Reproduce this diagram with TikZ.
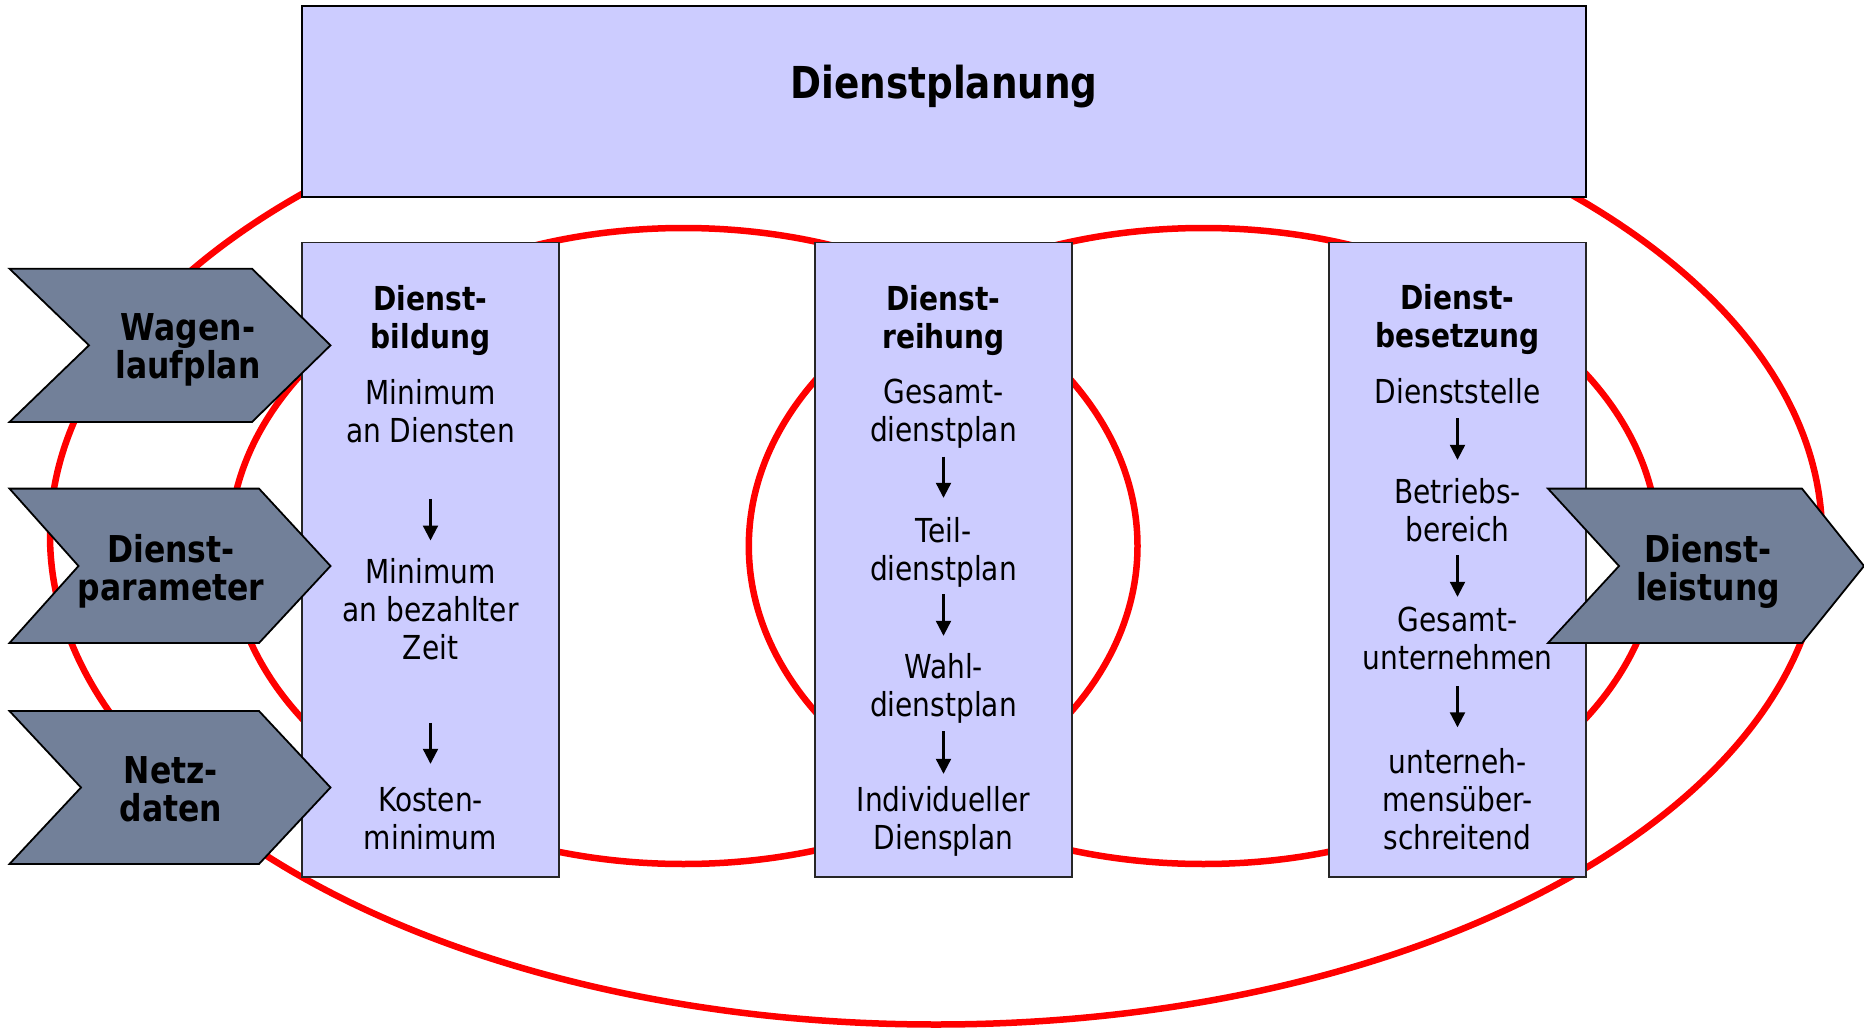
\documentclass[tikz,border=0pt]{standalone}
\usepackage{fontspec}
\setmainfont{DejaVu Sans}[FakeStretch=0.85]
\usetikzlibrary{arrows.meta}
\definecolor{lav}{RGB}{204,204,255}
\definecolor{slate}{RGB}{114,128,153}
\definecolor{ellred}{RGB}{255,0,0}
\newcommand\myTitle{\fontsize{44}{50}\selectfont\bfseries}
\newcommand\myChev{\fontsize{37}{38}\selectfont\bfseries\lineskiplimit=-100pt}
\newcommand\myHead{\fontsize{33}{38}\selectfont\bfseries\lineskiplimit=-100pt}
\newcommand\myBody{\fontsize{33}{38}\selectfont\lineskiplimit=-100pt}
\begin{document}
\begin{tikzpicture}[x=1pt,y=-1pt,
  ell/.style={draw=ellred, line width=6.5pt},
  topbox/.style={draw=black, fill=lav, line width=2pt, inner sep=0pt, outer sep=0pt},
  colbox/.style={draw=black!85, fill=lav, line width=1.6pt, inner sep=0pt, outer sep=0pt},
  chev/.style={draw=black, fill=slate, line width=1.8pt},
  cht/.style={font=\myChev, align=center, inner sep=0pt},
  hd/.style={font=\myHead, align=center, inner sep=0pt},
  bd/.style={font=\myBody, align=center, inner sep=0pt},
  ttl/.style={font=\myTitle, inner sep=0pt},
  arr/.style={-{Triangle[width=15pt,length=15pt]}, line width=2.2pt}
]
\useasboundingbox (0,0) rectangle (1864,1030);
% ellipses
\draw[ell] (936,535.5) ellipse [x radius=886pt, y radius=489pt];
\draw[ell] (683.5,546) ellipse [x radius=454pt, y radius=318pt];
\draw[ell] (1203.5,546) ellipse [x radius=454.7pt, y radius=318pt];
% boxes
\node[topbox, minimum width=1284pt, minimum height=191pt] (plan) at (944,101.5) {};
\node[colbox, minimum width=257pt, minimum height=634.5pt] (c1) at (430.5,559.75) {};
\node[colbox, minimum width=257pt, minimum height=634.5pt] (c2) at (943.5,559.75) {};
\node[colbox, minimum width=257pt, minimum height=634.5pt] (c3) at (1457.5,559.75) {};
% chevrons
\draw[chev] (9.5,268.7) -- (252,268.7) -- (330.5,345.3) -- (252,422) -- (9.5,422) -- (89,345.3) -- cycle;
\draw[chev] (9.5,488.6) -- (259,488.6) -- (330.5,566) -- (259,643) -- (9.5,643) -- (78.5,566) -- cycle;
\draw[chev] (9.5,711) -- (259,711) -- (330.5,787.5) -- (259,864) -- (9.5,864) -- (81,787.5) -- cycle;
\draw[chev] (1548,488.6) -- (1802,488.6) -- (1864,566) -- (1802,643) -- (1548,643) -- (1619,566) -- cycle;
% chevron texts
\node[cht] (wl) at (188,352) {\strut Wagen-\\\strut laufplan};
\node[cht] (dp) at (171,573) {\strut Dienst-\\\strut parameter};
\node[cht] (nd) at (171,795) {\strut Netz-\\\strut daten};
\node[cht] (dl) at (1708,573) {\strut Dienst-\\\strut leistung};
% title
\node[ttl] (tt) at (944,87) {Dienstplanung};
% column 1
\node[hd] (h1) at (430.5,322) {\strut Dienst-\\\strut bildung};
\node[bd] (b11) at (430.5,415.6) {\strut Minimum\\\strut an Diensten};
\node[bd] (b12) at (430.5,613.7) {\strut Minimum\\\strut an bezahlter\\\strut Zeit};
\node[bd] (b13) at (430.5,823) {\strut Kosten-\\\strut minimum};
% column 2
\node[hd] (h2) at (943.5,322) {\strut Dienst-\\\strut reihung};
\node[bd] (b21) at (943.5,415) {\strut Gesamt-\\\strut dienstplan};
\node[bd] (b22) at (943.5,553.5) {\strut Teil-\\\strut dienstplan};
\node[bd] (b23) at (943.5,689.8) {\strut Wahl-\\\strut dienstplan};
\node[bd] (b24) at (943.5,823) {\strut Individueller\\\strut Diensplan};
% column 3
\node[hd] (h3) at (1457.5,321) {\strut Dienst-\\\strut besetzung};
\node[bd] (b31) at (1457.5,396) {\strut Dienststelle};
\node[bd] (b32) at (1457.5,515) {\strut Betriebs-\\\strut bereich};
\node[bd] (b33) at (1457.5,643) {\strut Gesamt-\\\strut unternehmen};
\node[bd] (b34) at (1457.5,804) {\strut unterneh-\\\strut mensüber-\\\strut schreitend};
% arrows
\draw[arr, shorten <=45pt, shorten >=16pt] (b11.south) -- (b12.north);
\draw[arr, shorten <=52pt, shorten >=21pt] (b12.south) -- (b13.north);
\draw[arr, shorten <=3.5pt, shorten >=17.5pt] (b21.south) -- (b22.north);
\draw[arr, shorten <=2.5pt, shorten >=15.8pt] (b22.south) -- (b23.north);
\draw[arr, shorten <=3.2pt, shorten >=11pt] (b23.south) -- (b24.north);
\draw[arr, shorten <=3pt, shorten >=17pt] (b31.south) -- (b32.north);
\draw[arr, shorten <=2pt, shorten >=8pt] (b32.south) -- (b33.north);
\draw[arr, shorten <=5pt, shorten >=19.5pt] (b33.south) -- (b34.north);
\end{tikzpicture}
\end{document}
